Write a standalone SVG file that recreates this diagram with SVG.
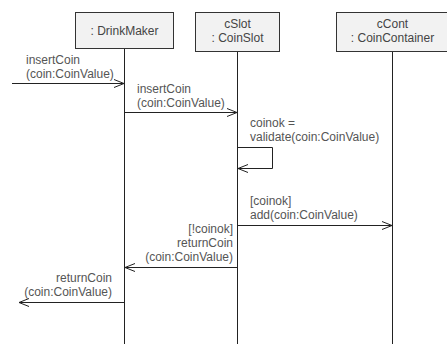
<svg xmlns="http://www.w3.org/2000/svg" width="447" height="344" viewBox="0 0 447 344">
  <style>
    .box { fill: #f2f2f2; stroke: #333; stroke-width: 1; }
    .life { stroke: #222; stroke-width: 1; fill: none; }
    .msg { stroke: #222; stroke-width: 1; fill: none; }
    .name { font-family: "Liberation Sans", Arial, sans-serif; font-size: 12px; fill: #444; text-anchor: middle; }
    .lbl { font-family: "Liberation Sans", Arial, sans-serif; font-size: 12px; fill: #555; }
    .r { text-anchor: end; }
  </style>
  <defs>
    <marker id="open" viewBox="0 0 10 10" refX="10" refY="5" markerWidth="10" markerHeight="10" markerUnits="userSpaceOnUse" orient="auto">
      <path d="M0,1 L10,5 L0,9" fill="none" stroke="#222" stroke-width="1"/>
    </marker>
  </defs>

  <rect width="447" height="344" fill="#fff"/>

  <!-- lifelines -->
  <g id="lifelines">
    <line class="life" x1="124.5" y1="48" x2="124.5" y2="344"/>
    <line class="life" x1="237.5" y1="52" x2="237.5" y2="344"/>
    <line class="life" x1="392.5" y1="52" x2="392.5" y2="344"/>
  </g>

  <g id="drinkMaker">
    <rect class="box" x="75.5" y="12.5" width="98" height="36"/>
    <text class="name" x="124.5" y="35">: DrinkMaker</text>
  </g>

  <g id="cSlot">
    <rect class="box" x="195.5" y="12.5" width="84" height="39"/>
    <text class="name" x="237.5" y="28">cSlot</text>
    <text class="name" x="237.5" y="42">: CoinSlot</text>
  </g>

  <g id="cCont">
    <rect class="box" x="336.5" y="12.5" width="112" height="39"/>
    <text class="name" x="392.5" y="28">cCont</text>
    <text class="name" x="392.5" y="42">: CoinContainer</text>
  </g>

  <g id="connectors">
    <!-- insertCoin from outside -->
    <line class="msg" x1="12" y1="83.5" x2="124" y2="83.5" marker-end="url(#open)"/>
    <text class="lbl" x="26" y="64">insertCoin</text>
    <text class="lbl" x="26" y="78">(coin:CoinValue)</text>

    <!-- insertCoin to slot -->
    <line class="msg" x1="124.5" y1="112.5" x2="237" y2="112.5" marker-end="url(#open)"/>
    <text class="lbl" x="137" y="93">insertCoin</text>
    <text class="lbl" x="137" y="107">(coin:CoinValue)</text>

    <!-- validate self call -->
    <polyline class="msg" points="237.5,147.5 272.5,147.5 272.5,168.5 238,168.5" marker-end="url(#open)"/>
    <text class="lbl" x="250" y="127">coinok =</text>
    <text class="lbl" x="250" y="141">validate(coin:CoinValue)</text>

    <!-- add to container -->
    <line class="msg" x1="237.5" y1="225.5" x2="392" y2="225.5" marker-end="url(#open)"/>
    <text class="lbl" x="250" y="205">[coinok]</text>
    <text class="lbl" x="250" y="219">add(coin:CoinValue)</text>

    <!-- returnCoin to maker -->
    <line class="msg" x1="237.5" y1="267.5" x2="125" y2="267.5" marker-end="url(#open)"/>
    <text class="lbl r" x="233" y="233">[!coinok]</text>
    <text class="lbl r" x="233" y="247">returnCoin</text>
    <text class="lbl r" x="233" y="261">(coin:CoinValue)</text>

    <!-- returnCoin outward -->
    <line class="msg" x1="124.5" y1="302.5" x2="19" y2="302.5" marker-end="url(#open)"/>
    <text class="lbl r" x="112" y="282">returnCoin</text>
    <text class="lbl r" x="112" y="296">(coin:CoinValue)</text>
  </g>
</svg>
